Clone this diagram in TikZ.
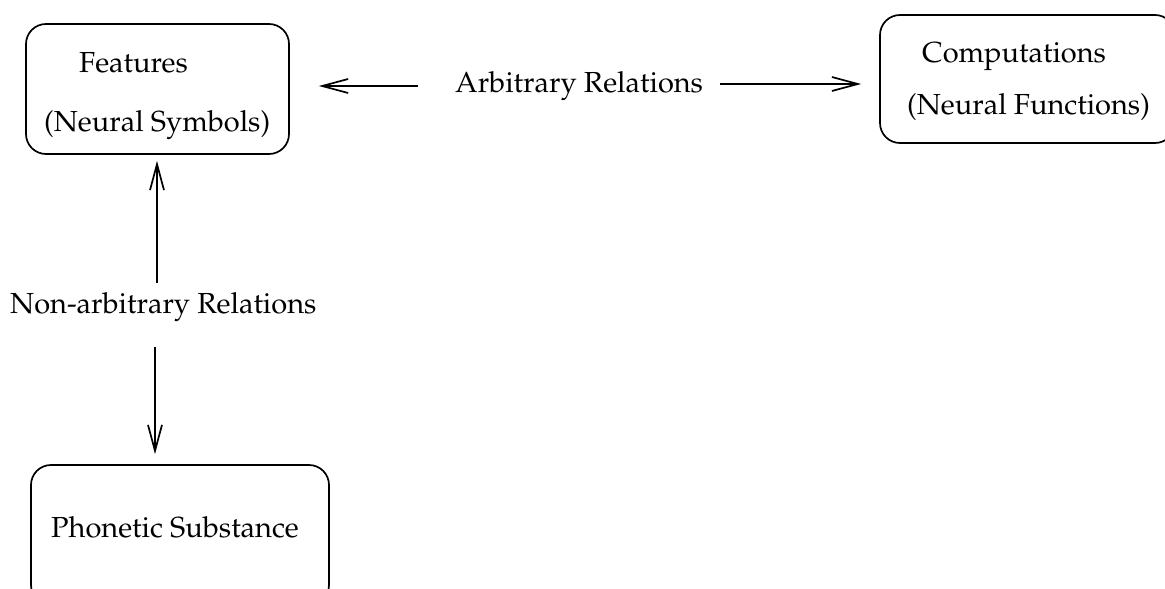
\documentclass[tikz,border=0pt]{standalone}
\usepackage[T1]{fontenc}
\usepackage{mathpazo}
\usetikzlibrary{arrows.meta}
\begin{document}
\begin{tikzpicture}[x=1pt,y=-1pt,
  box/.style={draw, line width=1.7pt, rounded corners=20pt, inner sep=0pt},
  lbl/.style={inner sep=0pt, font=\fontsize{29}{33}\selectfont},
  rel/.style={line width=1.7pt, -{Straight Barb[length=26pt,width=14pt,line width=1.7pt]}}]
\useasboundingbox (0,0) rectangle (1165,589);

% rounded boxes
\node[box, minimum width=263pt, minimum height=130pt] (feat) at (157.5,89) {};
\node[box, minimum width=295pt, minimum height=128pt] (comp) at (1027.5,79) {};
\node[box, minimum width=298pt, minimum height=140pt] (phon) at (180,535) {};

% box texts
\node[lbl, anchor=base west] (featA) at (79,72) {Features};
\node[lbl, anchor=base west] (featB) at (44,131) {(Neural Symbols)};
\node[lbl, anchor=base west] (compA) at (922,62) {Computations};
\node[lbl, anchor=base west] (compB) at (907,114) {(Neural Functions)};
\node[lbl, anchor=base west] (phonA) at (51,537) {Phonetic Substance};

% relation labels
\node[lbl, anchor=base west] (arb) at (455,92) {Arbitrary Relations};
\node[lbl, anchor=base west] (nonarb) at (10,313) {Non-arbitrary Relations};

% connectors
\coordinate (arbL) at (arb.west |- 0,86);
\coordinate (arbR) at (arb.east |- 0,84);
\draw[rel, shorten <=37pt, shorten >=29pt] (arbL) -- (arbL -| feat.east);
\draw[rel, shorten <=17pt, shorten >=18pt] (arbR) -- (arbR -| comp.west);
\coordinate (upS) at (157,283);
\coordinate (dnS) at (155,347);
\draw[rel, shorten >=6pt] (upS) -- (upS |- feat.south);
\draw[rel, shorten >=10pt] (dnS) -- (dnS |- phon.north);
\end{tikzpicture}
\end{document}
